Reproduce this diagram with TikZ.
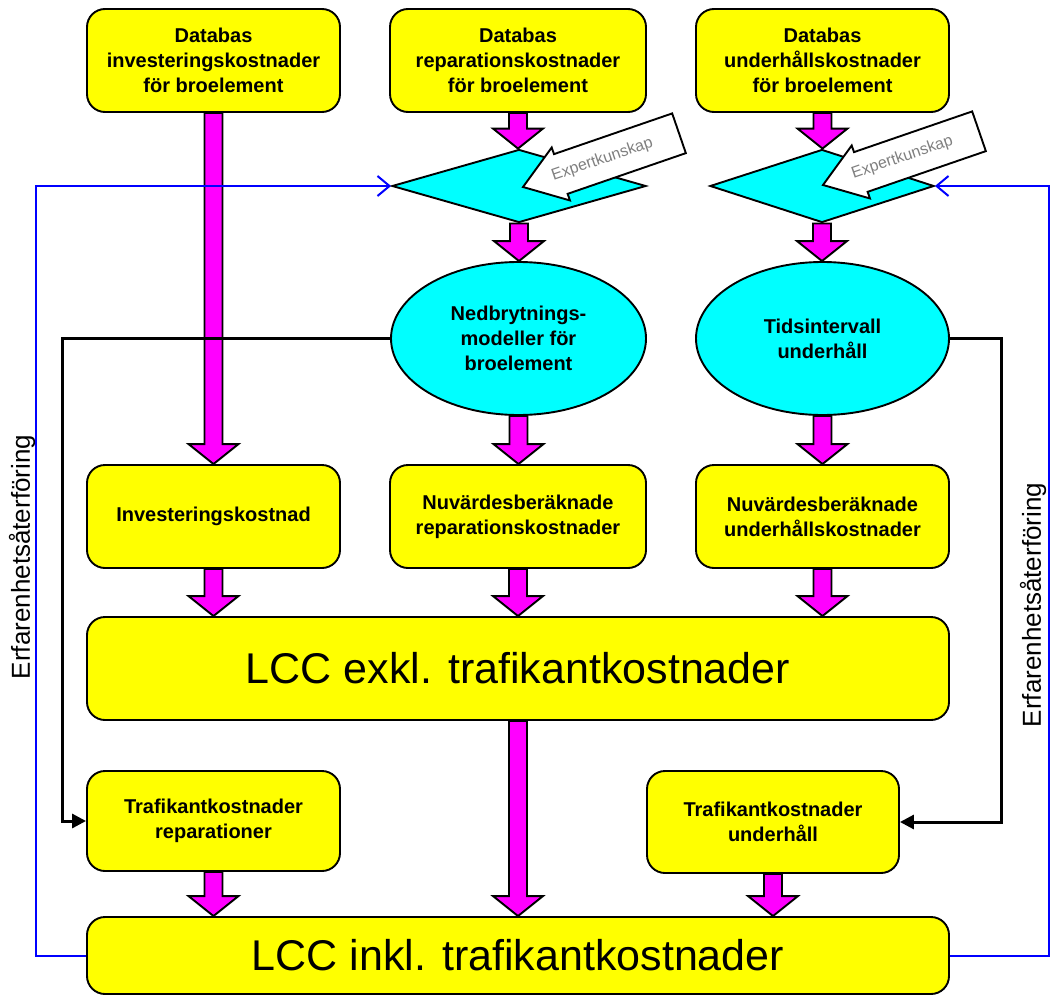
\documentclass[tikz,border=0pt]{standalone}
\usepackage{fontspec}
\setmainfont{Liberation Sans}
\usetikzlibrary{arrows.meta,calc,shapes.geometric}

\definecolor{boxyellow}{RGB}{255,255,0}
\definecolor{flowpink}{RGB}{255,0,255}
\definecolor{modelcyan}{RGB}{0,255,255}
\definecolor{fbblue}{RGB}{0,0,255}

\newcommand{\boxfont}{\fontsize{20}{25}\selectfont\bfseries}
\newcommand{\lccfont}{\fontsize{43}{50}\selectfont}
\newcommand{\fbfont}{\fontsize{26}{30}\selectfont}
\newcommand{\expfont}{\fontsize{16}{20}\selectfont}

% fat pink arrow, straight down from #1 to #2
\newcommand{\fatarrow}[2]{%
  \draw[fat] let \p1=#1, \p2=#2 in
    (\x1-9pt,\y1) -- (\x1-9pt,\y2+20pt) -- (\x1-25pt,\y2+20pt) -- (\x1,\y2)
    -- (\x1+25pt,\y2+20pt) -- (\x1+9pt,\y2+20pt) -- (\x1+9pt,\y1) -- cycle;}

\begin{document}
\begin{tikzpicture}[x=1pt, y=-1pt,
	box/.style={draw, line width=1.9pt, fill=boxyellow, rounded corners=18pt, align=center, font=\boxfont, inner sep=0pt, minimum width=253pt, minimum height=103pt},
	lcc/.style={box, font=\lccfont, minimum width=862pt},
	model/.style={draw, line width=1.9pt, fill=modelcyan, ellipse, align=center, font=\boxfont, inner sep=0pt, minimum width=255pt, minimum height=153pt},
	judge/.style={draw, line width=1.9pt, fill=modelcyan, diamond, inner sep=0pt, minimum height=73pt},
	fat/.style={draw, line width=1.9pt, fill=flowpink},
	link/.style={draw, line width=3pt, -{Triangle[length=14pt,width=14pt]}},
	fb/.style={draw=fbblue, line width=2pt, -{Straight Barb[length=12pt,width=20pt]}},
	expert/.style={draw, line width=1.9pt, fill=white}]
	\useasboundingbox (0,0) rectangle (1052,998);
	\node[box] (b_inv) at (213.5,60.5) {Databas\\investeringskostnader\\för broelement};
	\node[box, minimum width=256pt] (b_rep) at (518,60.5) {Databas\\reparationskostnader\\för broelement};
	\node[box] (b_und) at (822.5,60.5) {Databas\\underhållskostnader\\för broelement};
	\node[judge, minimum width=254pt] (d_rep) at (519,186) {};
	\node[judge, minimum width=224pt] (d_und) at (822,186) {};
	\node[model] (e_ned) at (518.5,338.5) {Nedbrytnings-\\modeller för\\broelement};
	\node[model, minimum width=253pt] (e_tid) at (822.5,338.5) {Tidsintervall\\underhåll};
	\node[box] (k_inv) at (213.5,516.5) {Investeringskostnad};
	\node[box, minimum width=256pt] (k_rep) at (518,516.5) {Nuvärdesberäknade\\reparationskostnader};
	\node[box] (k_und) at (822.5,516.5) {Nuvärdesberäknade\\underhållskostnader};
	\node[lcc] (lcc_ex) at (518,668.5) {LCC exkl. trafikantkostnader};
	\node[box, minimum height=100pt] (t_rep) at (213.5,821) {Trafikantkostnader\\reparationer};
	\node[box, minimum width=252pt, minimum height=102pt] (t_und) at (773,822) {Trafikantkostnader\\underhåll};
	\node[lcc, minimum height=77pt] (lcc_in) at (518,955.5) {LCC inkl. trafikantkostnader};
	\node[rotate=90, font=\fbfont] (fb_l) at (22,557) {Erfarenhetsåterföring};
	\node[rotate=90, font=\fbfont] (fb_r) at (1033,605) {Erfarenhetsåterföring};

	\fatarrow{(b_inv.south)}{(k_inv.north)}
	\fatarrow{(b_rep.south)}{(d_rep.north)}
	\fatarrow{(d_rep.south)}{(e_ned.north)}
	\fatarrow{(e_ned.south)}{(k_rep.north)}
	\fatarrow{(b_und.south)}{(d_und.north)}
	\fatarrow{(d_und.south)}{(e_tid.north)}
	\fatarrow{(e_tid.south)}{(k_und.north)}
	\fatarrow{(k_inv.south)}{(k_inv.south |- lcc_ex.north)}
	\fatarrow{(k_rep.south)}{(k_rep.south |- lcc_ex.north)}
	\fatarrow{(k_und.south)}{(k_und.south |- lcc_ex.north)}
	\fatarrow{(lcc_ex.south)}{(lcc_in.north)}
	\fatarrow{(t_rep.south)}{(t_rep.south |- lcc_in.north)}
	\fatarrow{(t_und.south)}{(t_und.south |- lcc_in.north)}

	\draw[link] (e_ned.west) -- ++(-328,0) |- (t_rep.west);
	\draw[link] (e_tid.east) -- ++(52,0) |- (t_und.east);
	\draw[fb] (lcc_in.west) -- ++(-50,0) |- (d_rep.west);
	\draw[fb] (lcc_in.east) -- ++(99,0) |- (d_und.east);

	\coordinate (x_rep) at (523,187);
	\coordinate (x_und) at (823,185);
	\foreach \tip/\nm in {x_rep/t_xrep, x_und/t_xund} {
		\begin{scope}[shift={(\tip)}, rotate=19, x=1pt, y=1pt]
			\draw[expert] (0,0) -- (40,28) -- (40,21) -- (165,21) -- (165,-21) -- (40,-21) -- (40,-28) -- cycle;
			\node[rotate=19, text=gray, font=\expfont] (\nm) at (84,0) {Expertkunskap};
		\end{scope}
	}
\end{tikzpicture}
\end{document}
